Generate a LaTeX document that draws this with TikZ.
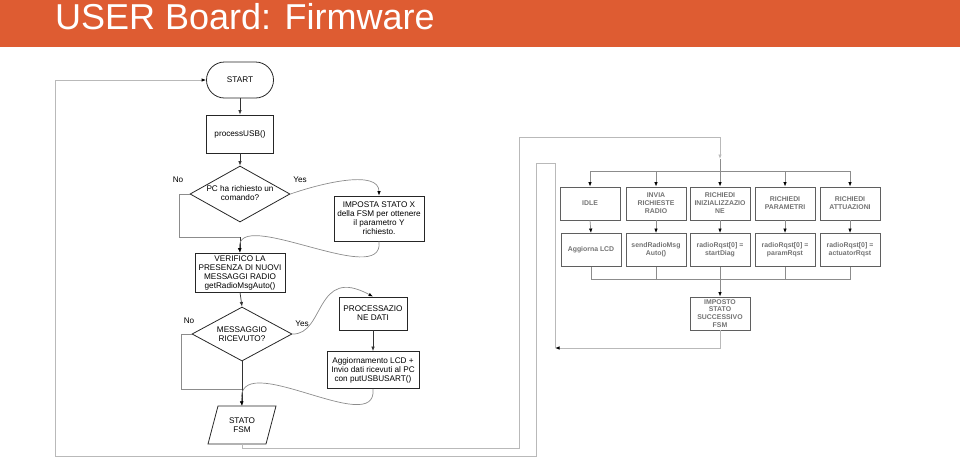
\documentclass[tikz,border=0pt]{standalone}
\usepackage{fontspec}
\setmainfont{Liberation Sans}
\usetikzlibrary{arrows.meta,shapes.geometric}
\definecolor{titleor}{RGB}{222,92,50}
\definecolor{lineg}{RGB}{140,140,140}
\definecolor{loopg}{RGB}{185,185,185}
\definecolor{rtext}{RGB}{115,115,115}
\definecolor{rbord}{RGB}{95,95,95}
\begin{document}
\begin{tikzpicture}[x=1pt,y=-1pt,
  lfont/.style={font=\fontsize{8.2}{9}\selectfont},
  lbox/.style={draw=black!85, line width=0.8pt, inner sep=0pt, align=center, lfont},
  dia/.style={diamond, draw=black!85, line width=0.8pt, inner sep=0pt, minimum width=100pt},
  rbox/.style={draw=rbord, line width=0.9pt, minimum width=60pt, minimum height=33pt, inner sep=0pt, align=center, text=rtext, font=\bfseries\fontsize{6.9}{8}\selectfont},
  arr/.style={-{Latex[length=4.5pt,width=3.5pt]}, line width=0.7pt, draw=black!80},
  garr/.style={-{Latex[length=4.5pt,width=3.5pt,color=black]}, line width=0.7pt, draw=lineg},
  gline/.style={line width=0.7pt, draw=lineg},
  larr/.style={-{Latex[length=4.5pt,width=3.5pt,color=black]}, line width=0.8pt, draw=loopg},
  lline/.style={line width=0.8pt, draw=loopg},
  lbl/.style={lfont, inner sep=0pt}
]
\useasboundingbox (0,0) rectangle (960,459);
% title bar
\fill[titleor] (0,0) rectangle (960,47);
\node[anchor=base west, inner sep=0pt, text=white, font=\fontsize{36}{40}\selectfont] (title) at (55,29) {USER Board: Firmware};

% ---------- left flowchart ----------
\node[lbox, rounded corners=18pt, minimum width=67pt, minimum height=36pt] (start) at (240,80) {START};
\node[lbox, minimum width=67pt, minimum height=38pt] (pusb) at (240,134) {processUSB()};
\node[dia, minimum height=56pt] (d1) at (240,194) {};
\node[lbl, align=center] (d1t) at (240,193) {PC ha richiesto un\\comando?};
\node[lbl] (no1) at (178,180) {No};
\node[lbl] (yes1) at (300,180) {Yes};
\node[lbox, minimum width=90pt, minimum height=45pt] (imp) at (379,218.5) {IMPOSTA STATO X\\della FSM per ottenere\\il parametro Y\\richiesto.};
\node[lbox, minimum width=90pt, minimum height=39pt] (ver) at (240,272.5) {VERIFICO LA\\PRESENZA DI NUOVI\\MESSAGGI RADIO\\getRadioMsgAuto()};
\node[dia, minimum height=54pt] (d2) at (242,334) {};
\node[lbl, align=center] (d2t) at (242,334) {MESSAGGIO\\RICEVUTO?};
\node[lbl] (no2) at (189,321) {No};
\node[lbl] (yes2) at (302,324) {Yes};
\node[lbox, minimum width=68pt, minimum height=33pt] (proc) at (373,313.5) {PROCESSAZIO\\NE DATI};
\node[lbox, minimum width=92pt, minimum height=37pt] (agg) at (373,370) {Aggiornamento LCD +\\Invio dati ricevuti al PC\\con putUSBUSART()};
\draw[draw=black!85, line width=0.8pt] (208,444) -- (218,406) -- (276,406) -- (266,444) -- cycle;
\node[lbl, align=center, minimum width=58pt, minimum height=38pt] (sfsm) at (242,425) {STATO\\FSM};

\coordinate (j1) at (240,237);
\coordinate (j2) at (242,389);
\draw[arr] (start.south) -- (pusb.north);
\draw[arr] (pusb.south) -- (d1.north);
\draw[gline] (d1.west) -- ++(-10,0) |- (j1);
\draw[arr] (j1) -- (ver.north);
\draw[garr] (d1.east) .. controls (325,182) and (379,170) .. (imp.north);
\draw[garr] (imp.south) .. controls (385,290) and (235,205) .. (ver.north);
\draw[arr] (ver.south) -- (d2.north);
\draw[gline] (d2.west) -- ++(-10,0) |- (j2);
\draw[arr] (d2.south) -- (sfsm.north);
\draw[garr] (d2.east) .. controls (325,335) and (315,265) .. (proc.north);
\draw[arr] (proc.south) -- (agg.north);
\draw[garr] (agg.south) .. controls (378,440) and (235,345) .. (sfsm.north);

% ---------- right block ----------
\node[rbox] (t1) at (590,203.5) {IDLE};
\node[rbox] (t2) at (656,203.5) {INVIA\\RICHIESTE\\RADIO};
\node[rbox] (t3) at (720,203.5) {RICHIEDI\\INIZIALIZZAZIO\\NE};
\node[rbox] (t4) at (785,203.5) {RICHIEDI\\PARAMETRI};
\node[rbox] (t5) at (850,203.5) {RICHIEDI\\ATTUAZIONI};
\node[rbox] (b1) at (591,250) {Aggiorna LCD};
\node[rbox] (b2) at (656,250) {sendRadioMsg\\Auto()};
\node[rbox] (b3) at (720,250) {radioRqst[0] =\\startDiag};
\node[rbox] (b4) at (785,250) {radioRqst[0] =\\paramRqst};
\node[rbox] (b5) at (850,250) {radioRqst[0] =\\actuatorRqst};
\node[rbox, font=\bfseries\fontsize{6.9}{7.8}\selectfont] (ist) at (720,313.5) {IMPOSTO\\STATO\\SUCCESSIVO\\FSM};

\coordinate (busin) at (720,159);
\coordinate (bus) at (720,171);
\coordinate (merge) at (720,279);
\coordinate (ret) at (555,348);

\draw[lline, -{Latex[length=4.5pt,width=3.5pt]}] (sfsm.south) -- (242,448) -- (519,448) -- (519,137) -- (720,137) -- (busin);
\draw[gline] (busin) -- (bus);
\foreach \n in {t1,t2,t3,t4,t5} \draw[garr] (bus) -| (\n.north);
\foreach \a/\b in {t1/b1,t2/b2,t3/b3,t4/b4,t5/b5} \draw[garr] (\a.south) -- (\b.north);
\foreach \n in {b1,b2,b3,b4,b5} \draw[gline] (\n.south) |- (merge);
\draw[garr] (merge) -- (ist.north);
\draw[larr] (ist.south) |- (ret);
\draw[larr] (ret) -- (555,163) -- (536,163) -- (536,456) -- (55,456) -- (55,80) -- (start.west);
\end{tikzpicture}
\end{document}
